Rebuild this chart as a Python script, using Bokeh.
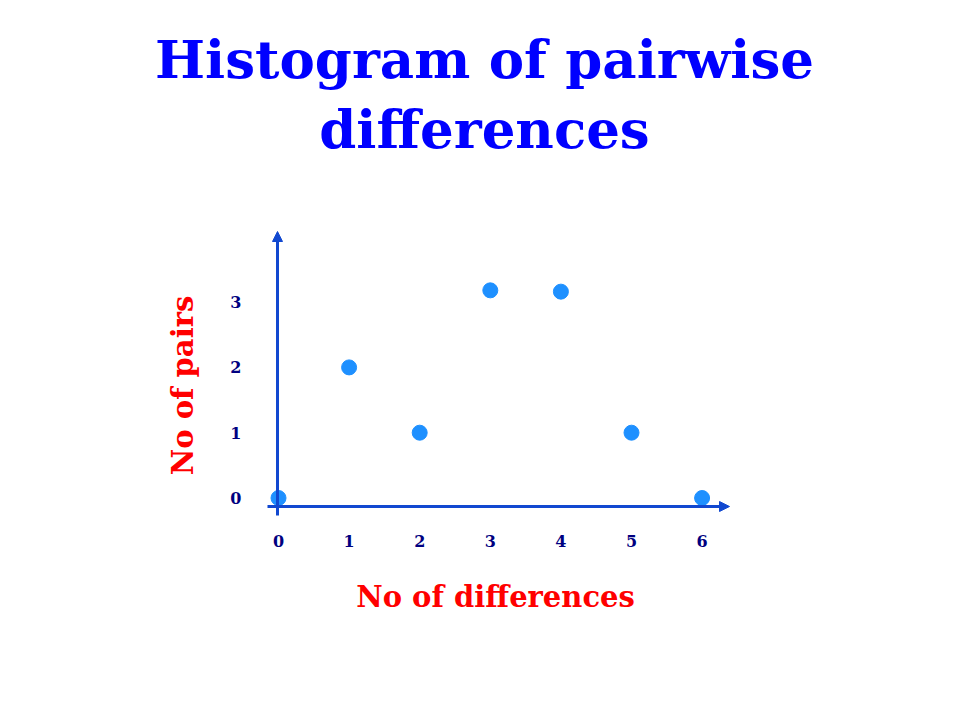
import math
from bokeh.plotting import figure
from bokeh.models import Range1d, LinearAxis, FixedTicker, Label, Arrow, NormalHead
from bokeh.embed import file_html
from bokeh.resources import INLINE

# ---- data ----
differences = [0, 1, 2, 3, 4, 5, 6]
pairs = [0, 2, 1, 3.18, 3.16, 1, 0]
x_ticks = [0, 1, 2, 3, 4, 5, 6]
y_ticks = [0, 1, 2, 3]
title_lines = ["Histogram of pairwise", "differences"]
x_title = "No of differences"
y_title = "No of pairs"

# ---- layout (page pixels) ----
W, H = 944, 704
OFF = 0
X0_PX, X_UNIT = 278.0, 70.6
Y0_PX, Y_UNIT = 497.5, 65.3


def dx(px):
    return (px - X0_PX) / X_UNIT


def dy(py):
    return (Y0_PX - py) / Y_UNIT


FONT = "DejaVu Serif"
AXIS_COLOR = "#1148D0"
POINT_COLOR = "#1E90FF"
TICK_COLOR = "#000080"

p = figure(width=W, height=H,
           x_range=Range1d(dx(OFF), dx(OFF + W)),
           y_range=Range1d(dy(OFF + H), dy(OFF)),
           output_backend="svg", toolbar_location=None, min_border=0,
           x_axis_type=None, y_axis_type=None)
p.grid.visible = False
p.outline_line_color = None

# axes with tick labels only
yax = LinearAxis(fixed_location=dx(277), ticker=FixedTicker(ticks=y_ticks))
xax = LinearAxis(fixed_location=dy(506), ticker=FixedTicker(ticks=x_ticks))
for ax, stand in ((yax, 36), (xax, 28)):
    ax.axis_line_color = None
    ax.major_tick_line_color = None
    ax.minor_tick_line_color = None
    ax.major_tick_in = 0
    ax.major_tick_out = 0
    ax.major_label_standoff = stand
    ax.major_label_text_font = FONT
    ax.major_label_text_font_style = "bold"
    ax.major_label_text_font_size = "16px"
    ax.major_label_text_color = TICK_COLOR
p.add_layout(yax, "left")
p.add_layout(xax, "below")

# axis lines with arrows
p.add_layout(Arrow(end=NormalHead(size=10, fill_color=AXIS_COLOR, line_color=AXIS_COLOR),
                   x_start=dx(277), y_start=dy(515), x_end=dx(277), y_end=dy(231),
                   line_color=AXIS_COLOR, line_width=3))
p.add_layout(Arrow(end=NormalHead(size=10, fill_color=AXIS_COLOR, line_color=AXIS_COLOR),
                   x_start=dx(267), y_start=dy(506), x_end=dx(729), y_end=dy(506),
                   line_color=AXIS_COLOR, line_width=3))

# points
p.scatter(differences, pairs, size=15, fill_color=POINT_COLOR, line_color=POINT_COLOR)

# title
for txt, base in zip(title_lines, (58, 128)):
    p.add_layout(Label(x=dx(484), y=dy(base), text=txt, text_align="center",
                       text_baseline="alphabetic", text_font=FONT, text_font_style="bold",
                       text_font_size="53px", text_color="#0000FF"))

# axis titles
p.add_layout(Label(x=dx(495), y=dy(596), text=x_title, text_align="center",
                   text_baseline="alphabetic", text_font=FONT, text_font_style="bold",
                   text_font_size="29px", text_color="#FF0000"))
p.add_layout(Label(x=dx(182), y=dy(385), text=y_title, angle=math.pi / 2,
                   text_align="center", text_baseline="alphabetic", text_font=FONT,
                   text_font_style="bold", text_font_size="29px", text_color="#FF0000"))

open("out.html", "w").write(file_html(p, INLINE))
